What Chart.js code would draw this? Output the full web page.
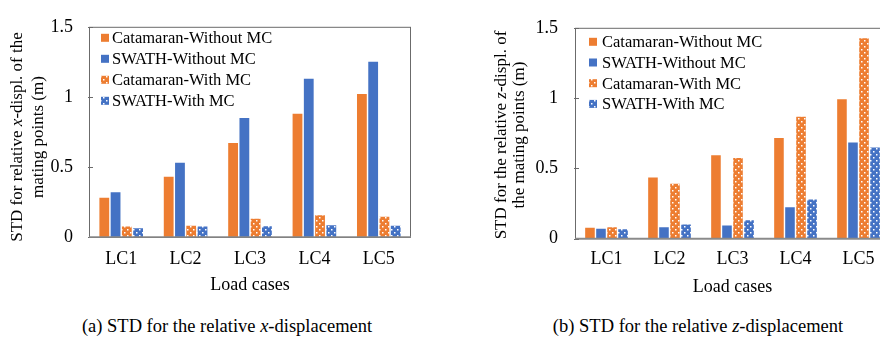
<!DOCTYPE html>
<html>
<head>
<meta charset="utf-8">
<script src="https://cdn.jsdelivr.net/npm/chart.js@4.4.0/dist/chart.umd.min.js"></script>
<style>
  html, body { margin: 0; padding: 0; background: #fff; }
  body { width: 880px; height: 337px; position: relative; overflow: hidden;
         font-family: 'Liberation Serif', 'Times New Roman', serif; }
  #chartA { position: absolute; left: 0; top: 0; }
  #chartB { position: absolute; left: 440px; top: 0; }
  .caption { position: absolute; top: 315px; font-size: 18.5px; line-height: 22px; color: #000;
             white-space: nowrap; transform: translateX(-50%); }
</style>
</head>
<body>
<canvas id="chartA" width="430" height="300"></canvas>
<canvas id="chartB" width="460" height="300"></canvas>
<div class="caption" style="left:227px">(a) STD for the relative <i>x</i>-displacement</div>
<div class="caption" style="left:698px">(b) STD for the relative <i>z</i>-displacement</div>
<script>
// Datos
const loadCases = ['LC1', 'LC2', 'LC3', 'LC4', 'LC5'];
const seriesNames = ['Catamaran-Without MC', 'SWATH-Without MC', 'Catamaran-With MC', 'SWATH-With MC'];
const yTicks = [0, 0.5, 1, 1.5];

// (a) desplazamiento relativo x
const xCatWithout = [0.28, 0.43, 0.67, 0.88, 1.02];
const xSwathWithout = [0.32, 0.53, 0.85, 1.13, 1.25];
const xCatWith = [0.075, 0.08, 0.13, 0.155, 0.145];
const xSwathWith = [0.063, 0.075, 0.077, 0.084, 0.08];

// (b) desplazamiento relativo z
const zCatWithout = [0.076, 0.434, 0.593, 0.716, 0.992];
const zSwathWithout = [0.069, 0.08, 0.092, 0.223, 0.684];
const zCatWith = [0.08, 0.39, 0.573, 0.867, 1.425];
const zSwathWith = [0.065, 0.099, 0.13, 0.278, 0.648];

const ORANGE = '#ED7D31';
const BLUE = '#4472C4';
const FONT = "'Liberation Serif', 'Times New Roman', serif";

// Relleno punteado para las series "With MC"
function dotted(color) {
    const c = document.createElement('canvas');
    c.width = 6;
    c.height = 6;
    const g = c.getContext('2d');
    g.fillStyle = color;
    g.fillRect(0, 0, 6, 6);
    g.fillStyle = '#fff';
    g.fillRect(1, 1, 1.5, 1.5);
    g.fillRect(4, 4, 1.5, 1.5);
    return g.createPattern(c, 'repeat');
}

function makeDatasets(catWo, swWo, catW, swW) {
    const common = { borderWidth: 0, barPercentage: 0.87, categoryPercentage: 0.7 };
    return [
        Object.assign({ label: seriesNames[0], data: catWo, backgroundColor: ORANGE }, common),
        Object.assign({ label: seriesNames[1], data: swWo, backgroundColor: BLUE }, common),
        Object.assign({ label: seriesNames[2], data: catW, backgroundColor: dotted(ORANGE) }, common),
        Object.assign({ label: seriesNames[3], data: swW, backgroundColor: dotted(BLUE) }, common)
    ];
}

// Marco del área de trazado y marcas del eje Y
const framePlugin = {
    id: 'frame',
    afterDatasetsDraw(chart) {
        const { ctx, chartArea: a } = chart;
        const y = chart.scales.y;
        ctx.save();
        ctx.strokeStyle = '#6b6b6b';
        ctx.lineWidth = 1;
        ctx.strokeRect(a.left + 0.5, a.top + 0.5, a.right - a.left - 1, a.bottom - a.top);
        ctx.beginPath();
        yTicks.forEach(v => {
            const py = Math.round(y.getPixelForValue(v)) + 0.5;
            ctx.moveTo(a.left - 1, py);
            ctx.lineTo(a.left + 4, py);
        });
        ctx.stroke();
        ctx.strokeStyle = '#8a8a8a';
        ctx.lineWidth = 1.6;
        ctx.beginPath();
        ctx.moveTo(a.left, a.bottom);
        ctx.lineTo(a.right, a.bottom);
        ctx.stroke();
        ctx.restore();
    }
};

// Leyenda dentro del área de trazado
const insideLegend = {
    id: 'insideLegend',
    afterDatasetsDraw(chart, args, opts) {
        const { ctx, chartArea: a } = chart;
        ctx.save();
        ctx.font = '16.5px ' + FONT;
        ctx.textBaseline = 'middle';
        ctx.textAlign = 'left';
        chart.data.datasets.forEach((ds, i) => {
            const y = a.top + opts.top + i * opts.row;
            const x = a.left + opts.left;
            ctx.fillStyle = ds.backgroundColor;
            ctx.fillRect(x, y - 4, 8, 8);
            ctx.fillStyle = '#000';
            ctx.fillText(ds.label, x + 8 + opts.gap, y + 1);
        });
        ctx.restore();
    }
};

// Título del eje Y con partes en cursiva
const yTitle = {
    id: 'yTitle',
    afterDraw(chart, args, opts) {
        const ctx = chart.ctx;
        ctx.save();
        ctx.fillStyle = '#000';
        ctx.textBaseline = 'middle';
        opts.lines.forEach((parts, i) => {
            let total = 0;
            parts.forEach(p => {
                ctx.font = (p[1] ? 'italic ' : '') + '17px ' + FONT;
                total += ctx.measureText(p[0]).width;
            });
            ctx.save();
            ctx.translate(opts.x[i], opts.cy);
            ctx.rotate(-Math.PI / 2);
            let pos = -total / 2;
            parts.forEach(p => {
                ctx.font = (p[1] ? 'italic ' : '') + '17px ' + FONT;
                ctx.fillText(p[0], pos, 0);
                pos += ctx.measureText(p[0]).width;
            });
            ctx.restore();
        });
        ctx.restore();
    }
};

function createConfig(datasets, g) {
    return {
        type: 'bar',
        data: { labels: loadCases, datasets: datasets },
        plugins: [framePlugin, insideLegend, yTitle],
        options: {
            responsive: false,
            animation: false,
            layout: { padding: { top: g.top, right: g.right, left: 0, bottom: 0 } },
            scales: {
                x: {
                    grid: { display: false, drawTicks: false },
                    border: { display: false },
                    ticks: { color: '#000', padding: g.xPad, font: { family: FONT, size: 18 } },
                    title: {
                        display: true, text: 'Load cases', color: '#000',
                        padding: { top: 0, bottom: g.titlePad },
                        font: { family: FONT, size: 18 }
                    },
                    afterFit: s => { s.height = g.xHeight; }
                },
                y: {
                    min: 0,
                    max: 1.5,
                    grid: { display: false, drawTicks: false },
                    border: { display: false },
                    afterBuildTicks: s => { s.ticks = yTicks.map(v => ({ value: v })); },
                    ticks: {
                        color: '#000', padding: g.yPad, font: { family: FONT, size: 18 },
                        callback: v => String(v)
                    },
                    afterFit: s => { s.width = g.yWidth; }
                }
            },
            plugins: {
                legend: { display: false },
                tooltip: { enabled: false },
                insideLegend: g.legend,
                yTitle: g.yTitle
            }
        }
    };
}

new Chart(document.getElementById('chartA'), createConfig(
    makeDatasets(xCatWithout, xSwathWithout, xCatWith, xSwathWith),
    {
        top: 17, right: 19, xHeight: 63, yWidth: 89, xPad: 11, yPad: 16, titlePad: 4,
        legend: { left: 12, top: 11, row: 21, gap: 3 },
        yTitle: {
            x: [18, 39], cy: 137,
            lines: [
                [['STD for relative ', false], ['x', true], ['-displ. of the', false]],
                [['mating points (m)', false]]
            ]
        }
    }
));

new Chart(document.getElementById('chartB'), createConfig(
    makeDatasets(zCatWithout, zSwathWithout, zCatWith, zSwathWith),
    {
        top: 18, right: 10, xHeight: 61.5, yWidth: 135, xPad: 10, yPad: 17, titlePad: 2,
        legend: { left: 14, top: 14, row: 20.7, gap: 5 },
        yTitle: {
            x: [62, 80], cy: 135,
            lines: [
                [['STD for the relative ', false], ['z', true], ['-displ. of', false]],
                [['the mating points (m)', false]]
            ]
        }
    }
));
</script>
</body>
</html>
